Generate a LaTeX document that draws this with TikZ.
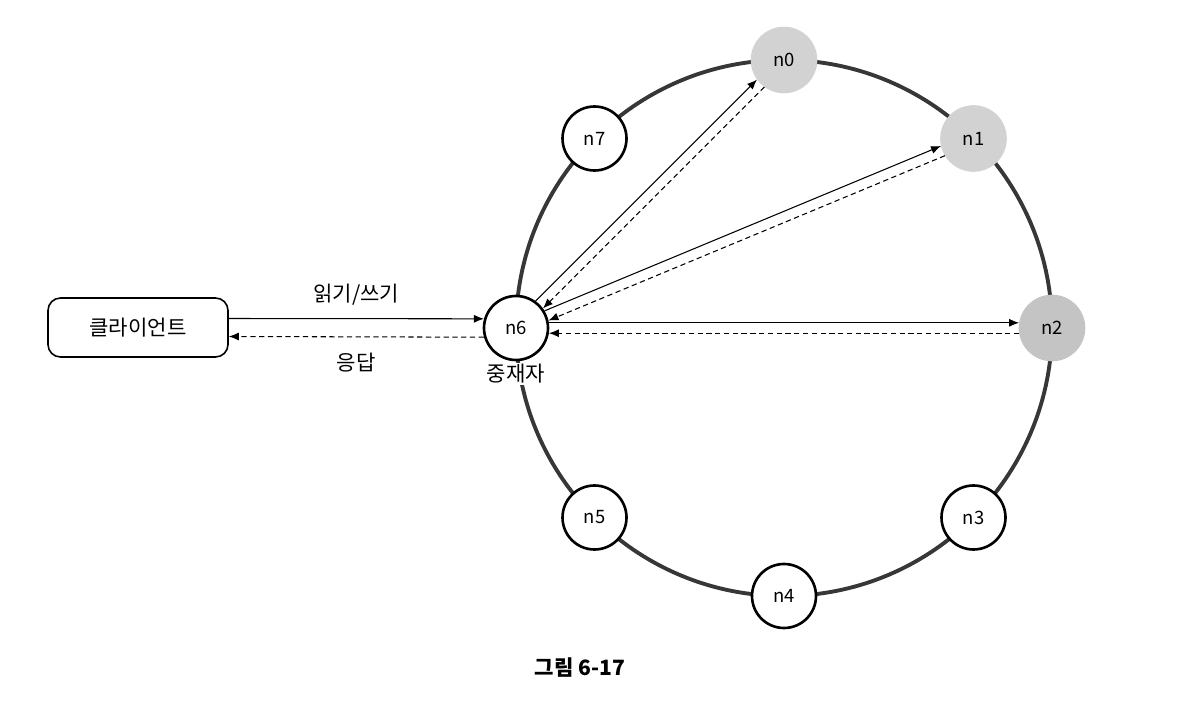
\documentclass[tikz,border=0pt]{standalone}
\usepackage{fontspec}
\setmainfont{Noto Sans CJK KR}
\usetikzlibrary{arrows.meta,positioning}
\definecolor{ringgray}{RGB}{55,55,55}
\definecolor{replica}{RGB}{210,210,210}
\definecolor{coordcol}{RGB}{196,196,196}
\tikzset{
  peer/.style={draw, circle, line width=1.5pt, fill=white, minimum size=1.28cm, inner sep=0pt, font=\fontsize{10.5}{12}\selectfont},
  replicapeer/.style={peer, draw=replica, fill=replica},
  req/.style={-{Latex[length=2mm,width=1.6mm]}, line width=0.6pt},
  resp/.style={req, densely dashed},
}
\begin{document}
\begin{tikzpicture}[font=\fontsize{12}{14}\selectfont]
	\useasboundingbox (0,0) rectangle (23.58,14.02);
	% ring
	\draw [ringgray, line width=2.2pt] (15.68,7.46) circle (5.36);
	% nodes on the ring
	\node [replicapeer] (n0) at (15.68,12.82) {n0};
	\node [replicapeer] (n1) at (19.47,11.25) {n1};
	\node [replicapeer, draw=coordcol, fill=coordcol] (n2) at (21.04,7.46) {n2};
	\node [peer] (n3) at (19.47,3.67) {n3};
	\node [peer] (n4) at (15.68,2.10) {n4};
	\node [peer] (n5) at (11.89,3.67) {n5};
	\node [peer] (n6) at (10.32,7.46) {n6};
	\node [peer] (n7) at (11.89,11.25) {n7};
	\node [below=0.02cm of n6, fill=white, inner sep=1pt] (arbiter) {중재자};
	% client
	\node [draw, rounded corners=0.25cm, line width=0.9pt, minimum width=3.6cm, minimum height=1.18cm] (client) at (2.76,7.47) {클라이언트};
	\draw [req] ([yshift=0.18cm]client.east) -- (n6.164) node [midway, above=0.15cm] (rw) {읽기/쓰기};
	\draw [resp] (n6.196) -- ([yshift=-0.18cm]client.east) node [midway, below=0.2cm] (ack) {응답};
	% replicas
	\draw [req] (n6.54) -- (n0.216);
	\draw [resp] (n0.234) -- (n6.36);
	\draw [req] (n6.31.5) -- (n1.193.5);
	\draw [resp] (n1.211.5) -- (n6.13.5);
	\draw [req] (n6.9) -- (n2.171);
	\draw [resp] (n2.189) -- (n6.351);
	\node [font=\fontsize{12}{14}\selectfont\bfseries] (caption) at (11.6,0.66) {그림 6-17};
\end{tikzpicture}
\end{document}
